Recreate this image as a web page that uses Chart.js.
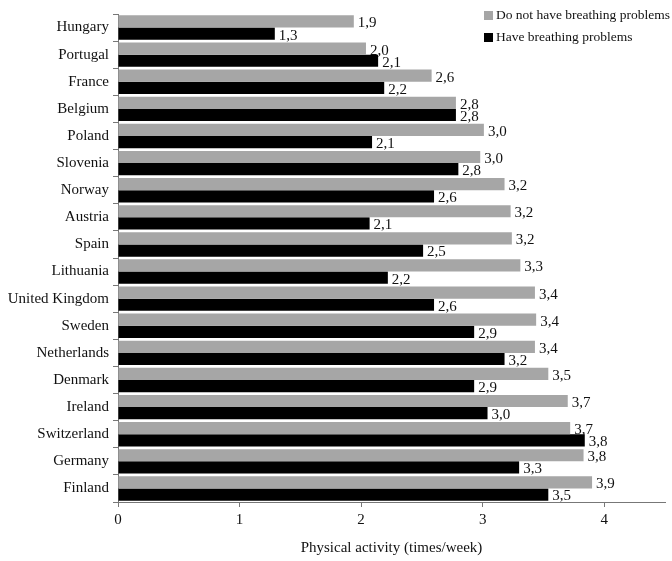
<!DOCTYPE html>
<html>
<head>
<meta charset="utf-8">
<script src="https://cdn.jsdelivr.net/npm/chart.js@4"></script>
<style>
  html, body { margin: 0; padding: 0; background: #fff; }
  #wrap { width: 672px; height: 561px; }
</style>
</head>
<body>
<div id="wrap"><canvas id="activityChart" width="672" height="561"></canvas></div>
<script>
// Countries, top to bottom
const countries = ["Hungary", "Portugal", "France", "Belgium", "Poland", "Slovenia",
  "Norway", "Austria", "Spain", "Lithuania", "United Kingdom", "Sweden",
  "Netherlands", "Denmark", "Ireland", "Switzerland", "Germany", "Finland"];

// Physical activity (times/week)
const noProblems = [1.94, 2.04, 2.58, 2.78, 3.01, 2.98, 3.18, 3.23, 3.24, 3.31,
  3.43, 3.44, 3.43, 3.54, 3.70, 3.72, 3.83, 3.90];
const withProblems = [1.29, 2.14, 2.19, 2.78, 2.09, 2.80, 2.60, 2.07, 2.51, 2.22,
  2.60, 2.93, 3.18, 2.93, 3.04, 3.84, 3.30, 3.54];

const xTicks = [0, 1, 2, 3, 4];

const serif = "'Liberation Serif', 'Times New Roman', serif";

// value labels like "1,9" next to each bar end
const barLabels = {
  id: 'barLabels',
  afterDatasetsDraw(chart) {
    const ctx = chart.ctx;
    ctx.save();
    ctx.font = '15px ' + serif;
    ctx.fillStyle = '#111';
    ctx.textBaseline = 'middle';
    ctx.textAlign = 'left';
    chart.data.datasets.forEach((ds, di) => {
      const meta = chart.getDatasetMeta(di);
      meta.data.forEach((bar, i) => {
        const txt = ds.data[i].toFixed(1).replace('.', ',');
        ctx.fillText(txt, bar.x + 4, bar.y + 2);
      });
    });
    ctx.restore();
  }
};

// legend drawn in the top right corner, on top of the plot
const cornerLegend = {
  id: 'cornerLegend',
  afterDraw(chart) {
    const ctx = chart.ctx;
    ctx.save();
    ctx.font = '13.5px ' + serif;
    ctx.textBaseline = 'middle';
    chart.data.datasets.forEach((ds, di) => {
      const y = 15 + di * 22;
      ctx.fillStyle = ds.backgroundColor;
      ctx.fillRect(484, y - 4, 9, 9);
      ctx.fillStyle = '#111';
      ctx.fillText(ds.label, 496, y);
    });
    ctx.restore();
  }
};

new Chart(document.getElementById('activityChart').getContext('2d'), {
  type: 'bar',
  data: {
    labels: countries,
    datasets: [{
      label: 'Do not have breathing problems',
      data: noProblems,
      backgroundColor: '#a6a6a6',
      barPercentage: 1,
      categoryPercentage: 0.9
    }, {
      label: 'Have breathing problems',
      data: withProblems,
      backgroundColor: '#000000',
      barPercentage: 1,
      categoryPercentage: 0.9
    }]
  },
  options: {
    indexAxis: 'y',
    responsive: false,
    animation: false,
    layout: { padding: { top: 14, right: 7, bottom: 4, left: 0 } },
    plugins: {
      legend: { display: false },
      tooltip: { enabled: false }
    },
    scales: {
      x: {
        min: 0,
        max: 4.5,
        afterBuildTicks: (scale) => {
          scale.ticks = xTicks.map(v => ({ value: v }));
        },
        ticks: {
          color: '#111',
          font: { family: serif, size: 15 },
          padding: 4
        },
        grid: { drawOnChartArea: false, color: '#777', tickLength: 5 },
        border: { color: '#777' },
        title: {
          display: true,
          text: 'Physical activity (times/week)',
          color: '#111',
          font: { family: serif, size: 15 },
          padding: { top: 6, bottom: 0 }
        }
      },
      y: {
        afterFit: (scale) => { scale.width = 118; },
        ticks: {
          color: '#111',
          font: { family: serif, size: 15 },
          padding: 4
        },
        grid: { drawOnChartArea: false, color: '#777', tickLength: 5, offset: true },
        border: { color: '#777' }
      }
    }
  },
  plugins: [barLabels, cornerLegend]
});
</script>
</body>
</html>
